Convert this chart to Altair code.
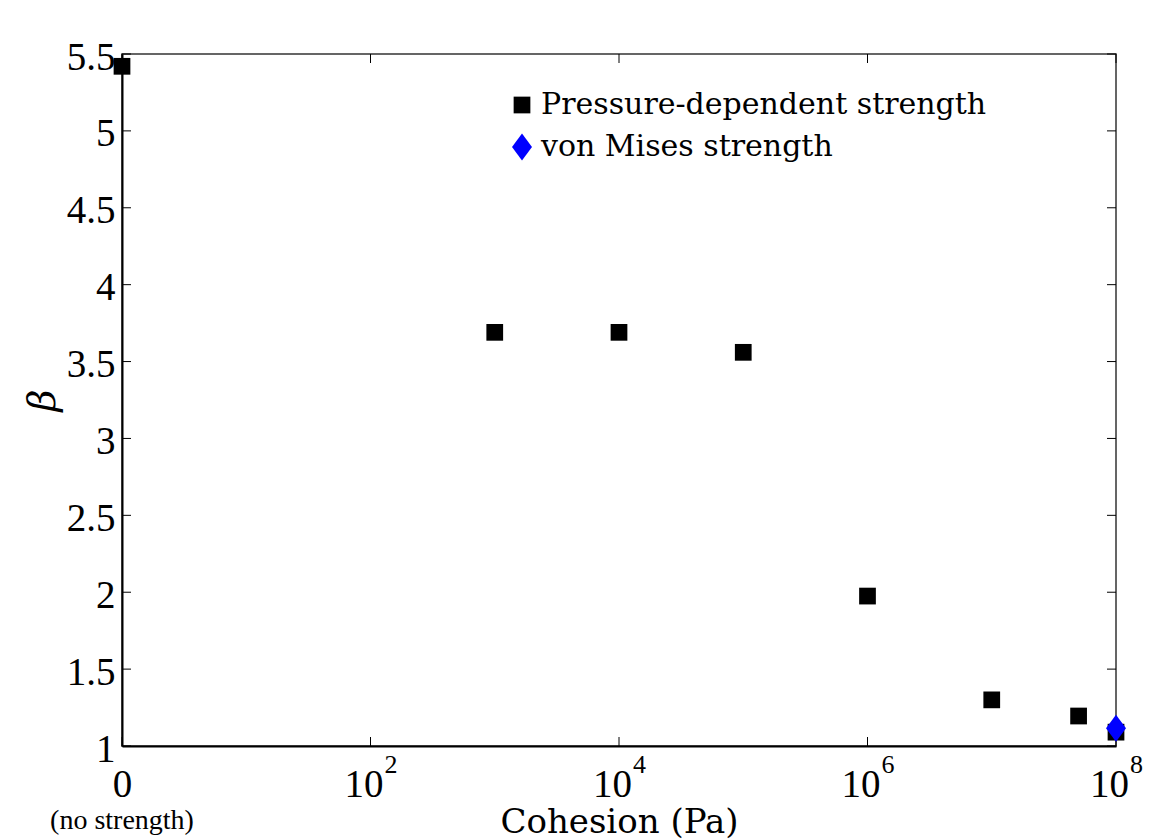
import altair as alt
import pandas as pd

# ---- data ----
cohesion_pd = [1, 1e3, 1e4, 1e5, 1e6, 1e7, 5e7, 1e8]
beta_pd = [5.42, 3.69, 3.69, 3.56, 1.975, 1.30, 1.195, 1.09]
cohesion_vm = [1e8]
beta_vm = [1.115]
series_names = ["Pressure-dependent strength", "von Mises strength"]

x_tick_values = [1, 1e2, 1e4, 1e6, 1e8]
x_exponents = ["2", "4", "6", "8"]
y_tick_values = [1, 1.5, 2, 2.5, 3, 3.5, 4, 4.5, 5, 5.5]

W, H = 994, 692

pts = pd.DataFrame({
    "x": cohesion_pd + cohesion_vm,
    "y": beta_pd + beta_vm,
    "s": [series_names[0]] * len(cohesion_pd) + [series_names[1]] * len(cohesion_vm),
})
xt = pd.DataFrame({"x": x_tick_values})
yt = pd.DataFrame({"y": y_tick_values})
exps = pd.DataFrame({"x": x_tick_values[1:], "t": x_exponents})
nos = pd.DataFrame({"x": [1], "t": ["(no strength)"]})

xs = alt.Scale(type="log", domain=[1, 1e8], nice=False)
ys = alt.Scale(domain=[1, 5.5], nice=False, zero=False)

DIAMOND = "M0,-1L0.74,0L0,1L-0.74,0Z"

x_axis = alt.Axis(
    values=x_tick_values,
    labelExpr="datum.value == 1 ? '0' : '10'",
    labelFont="Liberation Serif", labelFontSize=39, labelColor="black",
    labelPadding=19, labelBaseline="top",
    labelOffset=alt.condition("datum.value == 1", alt.value(0), alt.value(-7)),
    labelFlush=False, labelOverlap=False,
    ticks=False, tickSize=0, grid=False,
    domainColor="black", domainWidth=2,
    title="Cohesion (Pa)", titleFont="DejaVu Serif", titleFontSize=34,
    titleFontWeight="normal", titleColor="black",
    titleBaseline="alphabetic", titleX=W / 2, titleY=86)

y_axis = alt.Axis(
    values=y_tick_values, format="~g",
    labelFont="Liberation Serif", labelFontSize=39, labelColor="black",
    labelPadding=7, labelOffset=3, labelFlush=False, labelOverlap=False,
    ticks=False, tickSize=0, grid=False,
    domainColor="black", domainWidth=2,
    title="β", titleFont="DejaVu Serif", titleFontSize=38,
    titleFontStyle="italic", titleFontWeight="normal", titleColor="black",
    titleAngle=-90, titleBaseline="middle", titleX=-79, titleY=H / 2)

X = lambda: alt.X("x:Q", scale=xs, axis=x_axis, title="Cohesion (Pa)")
Y = lambda: alt.Y("y:Q", scale=ys, axis=y_axis, title="β")

xb = alt.Chart(xt).mark_rule(color="black", strokeWidth=1).encode(
    x=X(), y=alt.value(H), y2=alt.value(H - 9))
xtop = alt.Chart(xt).mark_rule(color="black", strokeWidth=1).encode(
    x=X(), y=alt.value(0), y2=alt.value(9))
yl = alt.Chart(yt).mark_rule(color="black", strokeWidth=1).encode(
    y=Y(), x=alt.value(0), x2=alt.value(9))
yr = alt.Chart(yt).mark_rule(color="black", strokeWidth=1).encode(
    y=Y(), x=alt.value(W), x2=alt.value(W - 9))

points = alt.Chart(pts).mark_point(filled=True, opacity=1, strokeWidth=0).encode(
    x=X(),
    y=Y(),
    color=alt.Color("s:N", scale=alt.Scale(domain=series_names, range=["black", "#0000ff"]),
                    legend=alt.Legend(
                        orient="none", legendX=385, legendY=36, title=None,
                        labelFont="DejaVu Serif", labelFontSize=30, labelColor="black",
                        labelLimit=0, rowPadding=12, labelOffset=4,
                        symbolStrokeWidth=0, padding=0)),
    shape=alt.Shape("s:N", scale=alt.Scale(domain=series_names, range=["square", DIAMOND])),
    size=alt.Size("s:N", scale=alt.Scale(domain=series_names, range=[280, 729])),
    order=alt.Order("s:N"),
)

exp_text = alt.Chart(exps).mark_text(
    font="Liberation Serif", fontSize=26, align="left", baseline="alphabetic",
    dx=14, color="black").encode(
    x=X(), y=alt.value(719), text="t:N")

nos_text = alt.Chart(nos).mark_text(
    font="Liberation Serif", fontSize=28, align="center", baseline="alphabetic",
    color="black").encode(
    x=X(), y=alt.value(775), text="t:N")

chart = alt.layer(xb, xtop, yl, yr, points, exp_text, nos_text).properties(
    width=W, height=H,
    autosize=alt.AutoSizeParams(type="none"),
    padding={"left": 114, "top": 46, "right": 30, "bottom": 100},
    background="white",
).configure_view(stroke="#333333", strokeWidth=1.5)

chart.save("out.html", embed_options={"renderer": "svg", "actions": False})
